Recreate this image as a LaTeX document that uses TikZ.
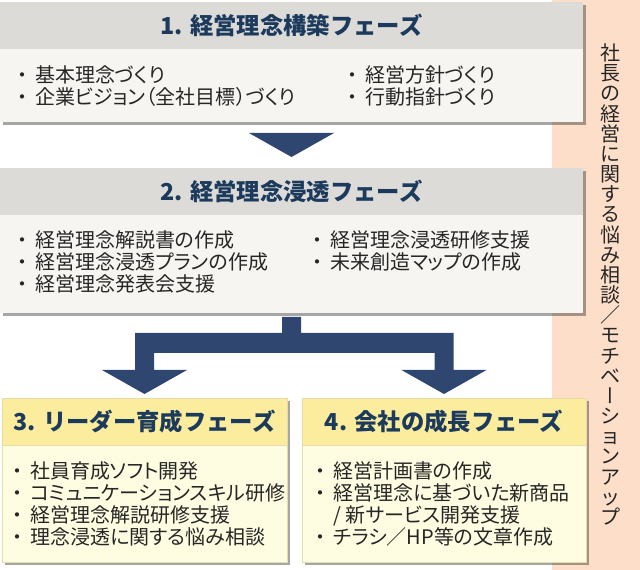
\documentclass[tikz,border=0pt]{standalone}
\usepackage{fontspec}
\setmainfont{Noto Sans CJK JP}
\newfontfamily\jpfont[RawFeature=+palt]{Noto Sans CJK JP}
\newfontfamily\vfont[RawFeature=+vert]{Noto Sans CJK JP}
\usetikzlibrary{positioning, calc, shadows}

\definecolor{graybar}{HTML}{DCDBD8}
\definecolor{graybody}{HTML}{F6F5F1}
\definecolor{yellowbar}{HTML}{FCEC9E}
\definecolor{yellowbody}{HTML}{FFFDE1}
\definecolor{yellowline}{HTML}{E6DCA8}
\definecolor{titlenavy}{HTML}{1B3A5C}
\definecolor{arrownavy}{HTML}{2E4670}
\definecolor{salmon}{HTML}{FDDFC9}
\definecolor{textdark}{HTML}{262626}

\newcommand{\itm}{\makebox[19.5pt][c]{・}}

\begin{document}
\begin{tikzpicture}[
    x=0.75pt, y=-0.75pt,
    boxshadow/.style={drop shadow={shadow xshift=2.25pt, shadow yshift=-2.25pt, fill=black, opacity=0.35}},
    phase/.style={inner sep=0pt, outer sep=0pt, minimum height=35.25pt, boxshadow,
                  font=\bfseries\fontsize{17.5}{19}\selectfont, text=titlenavy},
    grayhead/.style={phase, fill=graybar},
    yellowhead/.style={phase, fill=yellowbar, draw=yellowline, line width=0.4pt},
    graybox/.style={inner sep=0pt, outer sep=0pt, fill=graybody, boxshadow},
    yellowbox/.style={inner sep=0pt, outer sep=0pt, fill=yellowbody, draw=yellowline, line width=0.4pt, boxshadow},
    item/.style={inner sep=0pt, align=left, anchor=west, text=textdark,
                 font=\jpfont\fontsize{15}{16.5}\selectfont},
    vchar/.style={inner sep=0pt, text height=13.2pt, text depth=1.8pt, text=textdark,
                  font=\fontsize{15}{15}\selectfont},
    bigarrow/.style={fill=arrownavy}
  ]
    \useasboundingbox (0,0) rectangle (640,570);

    % side band
    \node[fill=salmon, inner sep=0pt, minimum width=66pt, minimum height=427.5pt, anchor=north west] (band) at (552,0) {};

    % Phase 1
    \node[grayhead, minimum width=437.25pt, anchor=north west] (h1) at (0,2) {1. 経営理念構築フェーズ};
    \node[graybox, minimum width=437.25pt, minimum height=54.75pt, anchor=north] (b1) at (h1.south) {};

    % Phase 2
    \node[grayhead, minimum width=437.25pt, anchor=north west] (h2) at (0,168) {2. 経営理念浸透フェーズ};
    \node[graybox, minimum width=437.25pt, minimum height=73.5pt, anchor=north] (b2) at (h2.south) {};

    % Phase 3 and 4
    \node[yellowhead, minimum width=213.75pt, anchor=north west] (h3) at (2,398) {3. リーダー育成フェーズ};
    \node[yellowbox, minimum width=213.75pt, minimum height=87.75pt, anchor=north] (b3) at (h3.south) {};
    \node[yellowhead, minimum width=213pt, anchor=north west] (h4) at (302,398) {4. 会社の成長フェーズ};
    \node[yellowbox, minimum width=213pt, minimum height=87.75pt, anchor=north] (b4) at (h4.south) {};

    % arrows
    \fill[bigarrow] ($(b1.south)+(-42.5,11)$) -- ($(b1.south)+(42.5,11)$) -- ($(h2.north)+(0,-11)$) -- cycle;

    \coordinate (fork) at ($(b2.south)+(0,4)$);
    \coordinate (lt) at ($(h3.north)+(0,-4)$);
    \coordinate (rt) at ($(h4.north)+(0,-4)$);
    \fill[bigarrow] ($(fork)+(-9.5,0)$) -- ($(fork)+(9.5,0)$) -- ($(fork)+(9.5,16)$)
      -- ($(rt |- fork)+(9.5,16)$) -- ($(rt)+(9.5,-24)$) -- ($(rt)+(42.5,-24)$) -- (rt)
      -- ($(rt)+(-42.5,-24)$) -- ($(rt)+(-9.5,-24)$) -- ($(rt |- fork)+(-9.5,36)$)
      -- ($(lt |- fork)+(9.5,36)$) -- ($(lt)+(9.5,-24)$) -- ($(lt)+(42.5,-24)$) -- (lt)
      -- ($(lt)+(-42.5,-24)$) -- ($(lt)+(-9.5,-24)$) -- ($(lt |- fork)+(-9.5,16)$)
      -- ($(fork)+(-9.5,16)$) -- cycle;

    % items
    \node[item] (i1a) at (9,86) {\itm 基本理念づくり\\\itm 企業ビジョン（全社目標）づくり};
    \node[item] (i1b) at (339,86) {\itm 経営方針づくり\\\itm 行動指針づくり};
    \node[item] (i2a) at (9,261.5) {\itm 経営理念解説書の作成\\\itm 経営理念浸透プランの作成\\\itm 経営理念発表会支援};
    \node[item] (i2b) at (304,251) {\itm 経営理念浸透研修支援\\\itm 未来創造マップの作成};
    \node[item] (i3) at (4,503.5) {\itm 社員育成ソフト開発\\\itm コミュニケーションスキル研修\\\itm 経営理念解説研修支援\\\itm 理念浸透に関する悩み相談};
    \node[item] (i4) at (307,504) {\itm 経営計画書の作成\\\itm 経営理念に基づいた新商品\\\hspace*{19.5pt}/ 新サービス開発支援\\\itm チラシ／HP等の文章作成};

    % vertical caption
    \foreach \c [count=\i from 0] in {社,長,の,経,営,に,関,す,る,悩,み,相,談,／,モ,チ,ベ,{\vfont ー},シ,ョ,ン,ア,ッ,プ}
      \node[vchar] (v\i) at (610,53+20.17*\i) {\c};
\end{tikzpicture}
\end{document}
